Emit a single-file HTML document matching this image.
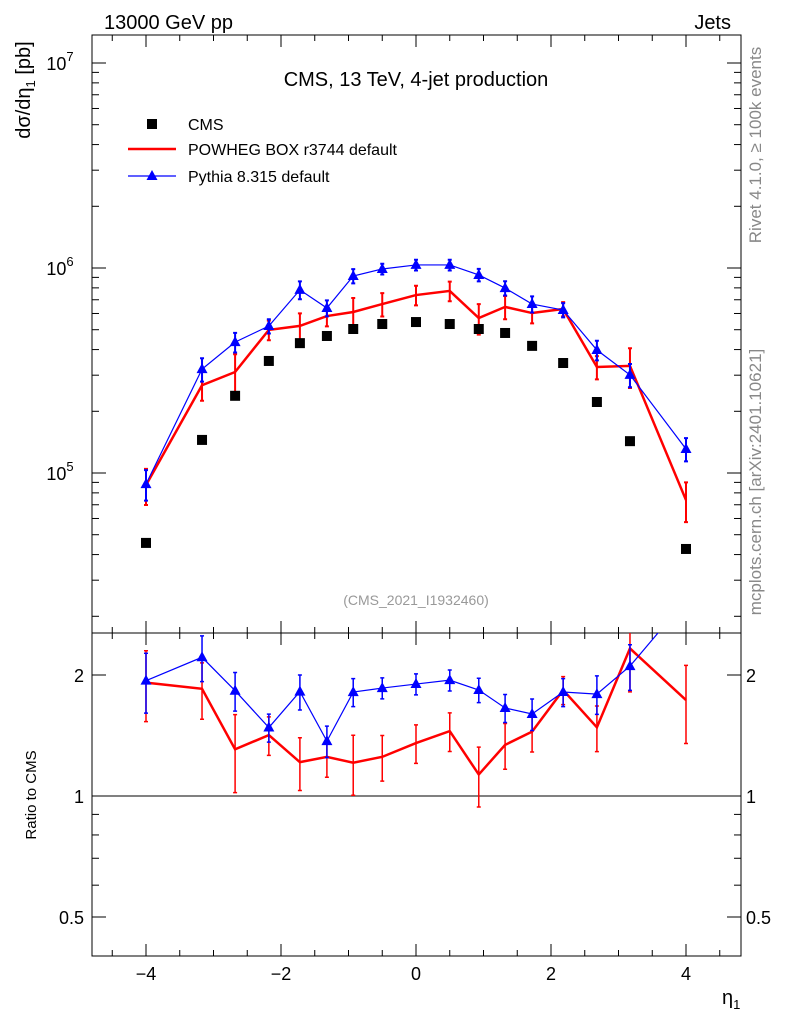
<!DOCTYPE html>
<html><head><meta charset="utf-8"><style>
body{margin:0;background:#fff;}
svg{display:block;font-family:"Liberation Sans",sans-serif;}
</style></head><body>
<svg id="c" width="786" height="1024" viewBox="0 0 786 1024">
<defs>
<clipPath id="mainClip"><rect x="92" y="35" width="649" height="598"/></clipPath>
<clipPath id="ratClip"><rect x="92" y="633" width="649" height="323"/></clipPath>
</defs>
<text x="104" y="29" font-size="20">13000 GeV pp</text>
<text x="731" y="29" font-size="20" text-anchor="end">Jets</text>
<text x="416" y="86" font-size="20" text-anchor="middle">CMS, 13 TeV, 4-jet production</text>
<text x="416" y="605" font-size="14" fill="#999" text-anchor="middle">(CMS_2021_I1932460)</text>
<text transform="translate(761,145) rotate(-90)" font-size="17" fill="#888" text-anchor="middle">Rivet 4.1.0, ≥ 100k events</text>
<text transform="translate(761,482) rotate(-90)" font-size="17" fill="#888" text-anchor="middle">mcplots.cern.ch [arXiv:2401.10621]</text>
<text transform="translate(30,90) rotate(-90)" font-size="20" text-anchor="middle">dσ/dη<tspan font-size="13" dy="5">1</tspan><tspan dy="-5"> [pb]</tspan></text>
<text transform="translate(36,795) rotate(-90)" font-size="15" text-anchor="middle">Ratio to CMS</text>
<text x="722" y="1004" font-size="20">η<tspan font-size="13" dy="5">1</tspan></text>
<g id="g"></g>
<g>
<rect x="147" y="119" width="10" height="10" fill="#000"/>
<text x="188" y="130" font-size="16">CMS</text>
<line x1="128" y1="149" x2="176" y2="149" stroke="#f00" stroke-width="2.5"/>
<text x="188" y="155" font-size="16">POWHEG BOX r3744 default</text>
<line x1="128" y1="176" x2="176" y2="176" stroke="#00f" stroke-width="1.2"/>
<polygon points="152,170 146.5,180 157.5,180" fill="#00f"/>
<text x="188" y="182" font-size="16">Pythia 8.315 default</text>
</g>
</svg>
<script>
const etaBins=[-4.0,-3.17,-2.68,-2.18,-1.72,-1.32,-0.93,-0.5,0,0.5,0.93,1.32,1.72,2.18,2.68,3.17,4.0];
const cmsValues=[45600,145000,238000,352000,430000,466000,504000,533000,545000,533000,504000,482000,417000,344000,222000,143000,42600];
const powhegValues=[87300,268000,311000,499000,522000,583000,610000,667000,738000,773000,570000,646000,603000,631000,329000,333000,73800];
const powhegRelErr=[0.2,0.16,0.22,0.11,0.15,0.11,0.17,0.13,0.11,0.11,0.17,0.13,0.11,0.08,0.13,0.22,0.22];
const pythiaValues=[88300,321000,435000,521000,782000,638000,914000,989000,1035000,1035000,925000,798000,667000,624000,398000,301000,131000];
const pythiaRelErr=[0.17,0.13,0.11,0.08,0.1,0.09,0.08,0.06,0.06,0.06,0.07,0.08,0.09,0.08,0.11,0.13,0.13];
const xTicks=[-4,-2,0,2,4];
const yTicks=[5,6,7];
const rTicks=[0.5,1,2];

const NS="http://www.w3.org/2000/svg";
const G=document.getElementById('g');
const X=v=>416+v*67.5;
const Y=v=>63+(7-Math.log10(v))*205;
const R=v=>796-Math.log2(v)*121;
function mk(t,a,p){const e=document.createElementNS(NS,t);for(const k in a)e.setAttribute(k,a[k]);(p||G).appendChild(e);return e;}

const f1=mk('rect',{x:92,y:35,width:649,height:598,fill:'none',stroke:'#000','stroke-width':1});


const f2=mk('rect',{x:92,y:633,width:649,height:323,fill:'none',stroke:'#000','stroke-width':1});



for(let v=-4.5;v<=4.51;v+=0.5){const major=Math.abs(v-Math.round(v/2)*2)<1e-6;const L=major?12:6;
 for(const [yb,yt] of [[633,35],[956,633]]){
  mk('line',{x1:X(v),y1:yb,x2:X(v),y2:yb-L,stroke:'#000'});
  mk('line',{x1:X(v),y1:yt,x2:X(v),y2:yt+L,stroke:'#000'});}}
xTicks.forEach(v=>{const t=mk('text',{x:X(v),y:980,'font-size':18,'text-anchor':'middle'});t.textContent=(v<0?'−':'')+Math.abs(v);

});
for(let d=4;d<=7;d++)for(let m=1;m<=9;m++){const v=m*Math.pow(10,d);const y=Y(v);if(y<35||y>633)continue;const L=m==1?14:7;
 mk('line',{x1:92,y1:y,x2:92+L,y2:y,stroke:'#000'});mk('line',{x1:741,y1:y,x2:741-L,y2:y,stroke:'#000'});}
yTicks.forEach(p=>{const t=mk('text',{x:60,y:Y(Math.pow(10,p))+7,'font-size':18,'text-anchor':'middle'});
 t.innerHTML='10<tspan font-size="13" dy="-9">'+p+'</tspan>';
 
 });
[0.5,0.6,0.7,0.8,0.9,1,2].forEach(v=>{const y=R(v);const L=(v==0.5||v==1||v==2)?14:7;
 mk('line',{x1:92,y1:y,x2:92+L,y2:y,stroke:'#000'});mk('line',{x1:741,y1:y,x2:741-L,y2:y,stroke:'#000'});});
rTicks.forEach(v=>{for(const [x,a] of [[84,'end'],[746,'start']]){const t=mk('text',{x:x,y:R(v)+7,'font-size':18,'text-anchor':a});t.textContent=String(v);
 
 }});
const one=mk('line',{x1:92,y1:R(1),x2:741,y2:R(1),stroke:'#000'});



const gm=mk('g',{'clip-path':'url(#mainClip)'});
const gr=mk('g',{'clip-path':'url(#ratClip)'});

function series(vals,err,col,w,tri,name){
 let pts=etaBins.map((x,i)=>X(x)+','+Y(vals[i])).join(' ');
 const pl=mk('polyline',{points:pts,fill:'none',stroke:col,'stroke-width':w},gm);
 
 
 let rp=etaBins.map((x,i)=>X(x)+','+R(vals[i]/cmsValues[i])).join(' ');
 const rl=mk('polyline',{points:rp,fill:'none',stroke:col,'stroke-width':w},gr);
 
 
 etaBins.forEach((x,i)=>{
  for(const [F,g,v,sw] of [[Y,gm,vals[i],2],[R,gr,vals[i]/cmsValues[i],1.5]]){
   const y1=F(v*(1+err[i])),y2=F(v*(1-err[i]));const cx=X(x);
   const e=mk('path',{d:`M${cx},${y1}V${y2}M${cx-2},${y1}h4M${cx-2},${y2}h4`,stroke:col,'stroke-width':sw,fill:'none'},g);
   
   
   if(tri){const cy=F(v);const t=mk('polygon',{points:`${cx},${cy-6} ${cx-5.5},${cy+4} ${cx+5.5},${cy+4}`,fill:col},g);
    
    }
  }});
}
series(powhegValues,powhegRelErr,'#f00',2.5,false,'powheg');
series(pythiaValues,pythiaRelErr,'#00f',1.2,true,'pythia');
etaBins.forEach((x,i)=>{const s=mk('rect',{x:X(x)-5,y:Y(cmsValues[i])-5,width:10,height:10,fill:'#000'},gm);
 
 });
</script>
</body></html>
